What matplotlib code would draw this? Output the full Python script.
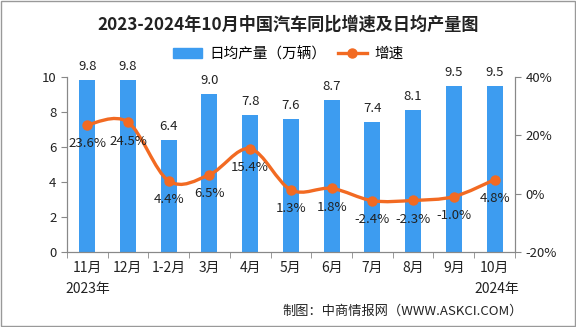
import matplotlib.pyplot as plt
import numpy as np
from matplotlib.path import Path
from matplotlib.patches import PathPatch, Rectangle
from matplotlib.lines import Line2D

plt.rcParams["font.family"] = ["Noto Sans CJK SC", "DejaVu Sans"]

months = ["11月", "12月", "1-2月", "3月", "4月", "5月", "6月", "7月", "8月", "9月", "10月"]
output = [9.8, 9.8, 6.4, 9.0, 7.8, 7.6, 8.7, 7.4, 8.1, 9.5, 9.5]
growth = [23.6, 24.5, 4.4, 6.5, 15.4, 1.3, 1.8, -2.4, -2.3, -1.0, 4.8]

BAR = "#3d9cf0"
LINE = "#f26a22"
TXT = "#222222"

fig = plt.figure(figsize=(5.76, 3.27), dpi=100)
fig.patches.append(Rectangle((0.001, 0.002), 0.997, 0.995, transform=fig.transFigure,
                             fill=False, ec="#999999", lw=1))
ax = fig.add_axes([0.116, 0.229, 0.778, 0.536])
ax2 = ax.twinx()

x = np.arange(len(months))
ax.bar(x, output, width=0.39, color=BAR, zorder=2)
for xi, v in zip(x, output):
    ax.annotate(f"{v:.1f}", (xi, v), textcoords="offset points", xytext=(0, 5),
                ha="center", va="bottom", fontsize=9.5, color=TXT)

ax.set_xlim(-0.5, len(months) - 0.5)
ax.set_ylim(0, 10)
ax.set_yticks([0, 2, 4, 6, 8, 10])
ax.set_xticks(x)
ax.set_xticklabels(months, fontsize=10, color=TXT)
ax.set_xticks(np.arange(-0.5, len(months), 1), minor=True)
ax.tick_params(axis="x", which="major", length=0, pad=6)
ax.tick_params(axis="x", which="minor", length=4, color="#888888")
ax.tick_params(axis="y", labelsize=9.5, labelcolor=TXT, length=4, color="#888888")

# smoothed growth line (Catmull-Rom -> cubic Bezier in data coords)
pts = np.column_stack([x, growth]).astype(float)
verts = [tuple(pts[0])]
codes = [Path.MOVETO]
for i in range(len(pts) - 1):
    p0 = pts[i - 1] if i > 0 else pts[i]
    p1, p2 = pts[i], pts[i + 1]
    p3 = pts[i + 2] if i + 2 < len(pts) else pts[i + 1]
    c1 = p1 + (p2 - p0) / 6
    c2 = p2 - (p3 - p1) / 6
    verts += [tuple(c1), tuple(c2), tuple(p2)]
    codes += [Path.CURVE4] * 3
ax2.add_patch(PathPatch(Path(verts, codes), fill=False, ec=LINE, lw=2.4, zorder=3))
ax2.plot(x, growth, ls="none", marker="o", ms=6.5, color=LINE, zorder=4)
for xi, g in zip(x, growth):
    ax2.annotate(f"{g:.1f}%", (xi, g), textcoords="offset points", xytext=(0, -9),
                 ha="center", va="top", fontsize=9.5, color=TXT, zorder=5)

ax2.set_ylim(-20, 40)
ax2.set_yticks([-20, 0, 20, 40])
ax2.set_yticklabels([f"{t}%" for t in [-20, 0, 20, 40]])
ax2.tick_params(axis="y", labelsize=9.5, labelcolor=TXT, length=4, color="#888888")

for a in (ax, ax2):
    a.spines["top"].set_visible(False)
    for s in ("left", "right", "bottom"):
        a.spines[s].set_color("#888888")

fig.text(0.5, 0.925, "2023-2024年10月中国汽车同比增速及日均产量图", ha="center", va="center",
         fontsize=12.3, fontweight="bold", color=TXT)
fig.text(0.153, 0.116, "2023年", ha="center", va="center", fontsize=10, color=TXT)
fig.text(0.862, 0.116, "2024年", ha="center", va="center", fontsize=10, color=TXT)
fig.text(0.908, 0.049, "制图：中商情报网（WWW.ASKCI.COM）", ha="right", va="center",
         fontsize=9.5, color=TXT)

handles = [Rectangle((0, 0), 1, 1, color=BAR),
           Line2D([0], [0], color=LINE, lw=2.4, marker="o", ms=6.5)]
fig.legend(handles, ["日均产量（万辆）", "增速"], loc="center", bbox_to_anchor=(0.5, 0.835),
           ncol=2, frameon=False, fontsize=10.5, handlelength=2.0, handleheight=0.6,
           columnspacing=0.8, handletextpad=0.5)

fig.savefig("out.png", dpi=100)
